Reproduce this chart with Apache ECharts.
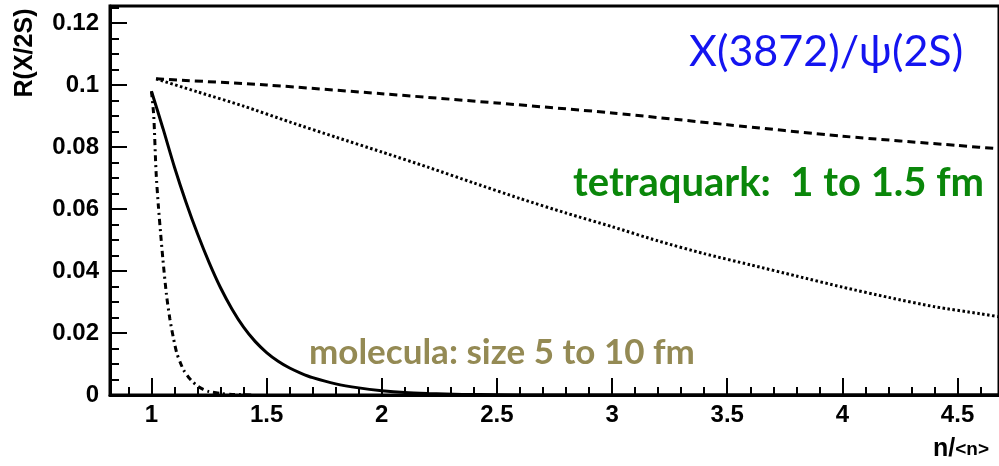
<!DOCTYPE html>
<html>
<head>
<meta charset="utf-8">
<script src="https://cdn.jsdelivr.net/npm/echarts@6/dist/echarts.min.js"></script>
<style>
  html, body { margin: 0; padding: 0; background: #fff; }
  #chart { width: 999px; height: 466px; }
</style>
</head>
<body>
<div id="chart"></div>
<script>
// Production ratio R(X/2S) versus scaled multiplicity n/<n>

// tetraquark hypothesis, size 1 fm (dashed)
const nTetra1 = [1.02, 1.5, 2.0, 2.5, 3.0, 3.5, 4.0, 4.5, 4.7];
const rTetra1 = [0.102, 0.1000, 0.0972, 0.0942, 0.0910, 0.0872, 0.0835, 0.0805, 0.0793];

// tetraquark hypothesis, size 1.5 fm (dotted)
const nTetra15 = [1.02, 1.2, 1.4, 1.6, 1.8, 2.0, 2.2, 2.4, 2.6, 2.8, 3.0, 3.2, 3.4, 3.6, 3.8, 4.0, 4.2, 4.4, 4.6, 4.7];
const rTetra15 = [0.102, 0.0978, 0.0932, 0.0881, 0.0832, 0.0784, 0.0735, 0.0684, 0.0634, 0.0587, 0.0543, 0.0497, 0.0456, 0.0420, 0.0384, 0.0348, 0.0315, 0.0285, 0.0262, 0.0250];

// molecule hypothesis, size 5 fm (solid)
const nMol5 = [1.0, 1.05, 1.1, 1.15, 1.2, 1.25, 1.3, 1.35, 1.4, 1.45, 1.5, 1.55, 1.6, 1.65, 1.7, 1.8, 1.9, 2.0, 2.1, 2.2, 2.35, 2.5, 2.7, 4.7];
const rMol5 = [0.0980, 0.0860, 0.0735, 0.0622, 0.0520, 0.0428, 0.0346, 0.0277, 0.0219, 0.0173, 0.0137, 0.0109, 0.0087, 0.0070, 0.0056, 0.0036, 0.0023, 0.0014, 0.0008, 0.0005, 0.0002, 0.0001, 0, 0];

// molecule hypothesis, size 10 fm (dash-dot)
const nMol10 = [1.0, 1.01, 1.02, 1.03, 1.04, 1.05, 1.065, 1.08, 1.095, 1.11, 1.125, 1.14, 1.16, 1.18, 1.2, 1.225, 1.25, 1.3, 1.35, 1.45];
const rMol10 = [0.098, 0.090, 0.072, 0.061, 0.052, 0.0435, 0.0325, 0.0245, 0.0185, 0.0135, 0.0105, 0.0080, 0.0058, 0.0042, 0.0029, 0.0018, 0.0011, 0.0005, 0.0002, 0];

const xRange = [0.82, 4.68];
const yRange = [0, 0.1255];
const yStep = 0.02;

const zip = (xs, ys) => xs.map((x, i) => [x, ys[i]]);

const axisFont = { fontFamily: '"Liberation Sans", Arial, sans-serif', fontWeight: 'bold', fontSize: 24, color: '#000' };
const noteFont = 'Lato, "Noto Sans", sans-serif';

const chart = echarts.init(document.getElementById('chart'), null, { renderer: 'canvas' });

const curve = (name, xs, ys, type, width) => ({
  name,
  type: 'line',
  data: zip(xs, ys),
  showSymbol: false,
  symbol: 'none',
  smooth: 0.25,
  lineStyle: { color: '#000', width, type, cap: 'butt' },
  z: 3
});

chart.setOption({
  animation: false,
  backgroundColor: '#fff',
  grid: {
    left: 110, top: 6, right: -3, bottom: 71,
    show: true, borderColor: '#000', borderWidth: 3, backgroundColor: 'transparent'
  },
  xAxis: {
    type: 'value',
    min: xRange[0], max: xRange[1],
    splitNumber: 8,
    axisLine: { show: true, onZero: false, lineStyle: { color: '#000', width: 3 } },
    axisTick: { show: true, inside: true, length: 17, lineStyle: { color: '#000', width: 2 } },
    minorTick: { show: true, splitNumber: 5, length: 8, lineStyle: { color: '#000', width: 2 } },
    splitLine: { show: false },
    axisLabel: Object.assign({ margin: 8, showMinLabel: false, showMaxLabel: false }, axisFont)
  },
  yAxis: {
    type: 'value',
    min: yRange[0], max: yRange[1],
    interval: yStep,
    axisLine: { show: true, lineStyle: { color: '#000', width: 3 } },
    axisTick: { show: true, inside: true, length: 17, lineStyle: { color: '#000', width: 2 } },
    minorTick: { show: true, splitNumber: 4, length: 9, lineStyle: { color: '#000', width: 2 } },
    splitLine: { show: false },
    axisLabel: Object.assign({ margin: 11, showMaxLabel: false }, axisFont)
  },
  series: [
    curve('tetraquark 1 fm', nTetra1, rTetra1, [8, 5], 3),
    curve('tetraquark 1.5 fm', nTetra15, rTetra15, [2.5, 2.5], 3),
    curve('molecule 5 fm', nMol5, rMol5, 'solid', 3),
    curve('molecule 10 fm', nMol10, rMol10, [6, 4, 2, 4], 3)
  ],
  graphic: [
    {
      type: 'text', x: 25, y: 53, rotation: Math.PI / 2,
      style: { text: 'R(X/2S)', font: 'bold 25px "Liberation Sans", Arial, sans-serif', fill: '#000', align: 'center', verticalAlign: 'middle' }
    },
    {
      type: 'text', x: 933, y: 462,
      style: {
        text: '{a|n/}{b|<n>}', verticalAlign: 'bottom', align: 'left',
        rich: {
          a: { fontFamily: '"Liberation Sans", Arial, sans-serif', fontWeight: 'bold', fontSize: 25, fill: '#000' },
          b: { fontFamily: '"Liberation Sans", Arial, sans-serif', fontWeight: 'bold', fontSize: 19, fill: '#000' }
        }
      }
    },
    {
      type: 'text', x: 689, y: 52,
      style: { text: 'X(3872)/ψ(2S)', font: '43px ' + noteFont, fill: '#1414f0', align: 'left', verticalAlign: 'middle' }
    },
    {
      type: 'text', x: 573, y: 183,
      style: { text: 'tetraquark:  1 to 1.5 fm', font: 'bold 40px ' + noteFont, fill: '#0a870a', align: 'left', verticalAlign: 'middle' }
    },
    {
      type: 'text', x: 309, y: 353,
      style: { text: 'molecula: size 5 to 10 fm', font: 'bold 35px ' + noteFont, fill: '#948a54', align: 'left', verticalAlign: 'middle' }
    }
  ]
});
</script>
</body>
</html>
